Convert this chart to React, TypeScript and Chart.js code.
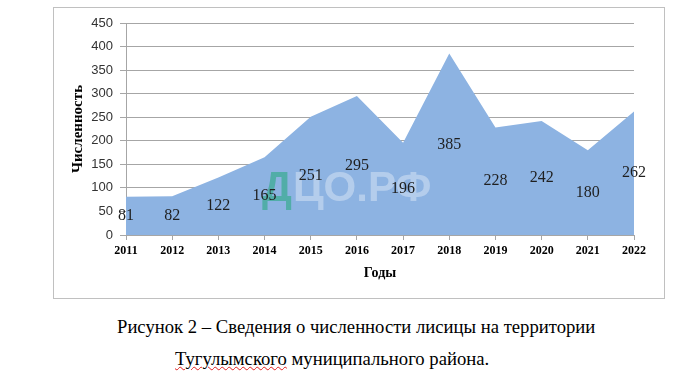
import React, { useEffect, useRef } from "react";
import { Chart, registerables } from "chart.js";

Chart.register(...registerables);

// ---- data ----
const years = ["2011", "2012", "2013", "2014", "2015", "2016", "2017", "2018", "2019", "2020", "2021", "2022"];
const population = [81, 82, 122, 165, 251, 295, 196, 385, 228, 242, 180, 262];
const yMin = 0;
const yMax = 450;
const yStep = 50;
const yTitle = "Численность";
const xTitle = "Годы";
const captionLine1 = "Рисунок 2 – Сведения о численности лисицы на территории";
const captionLine2Marked = "Тугулымского";
const captionLine2Rest = " муниципального района.";
const watermarkFirst = "Д";
const watermarkRest = "ЦО.РФ";

const AREA_COLOR = "#8db3e2";
const GRID_COLOR = "#a6a6a6";

const watermarkPlugin = {
  id: "watermarkAndLabels",
  afterDatasetsDraw(chart: any) {
    const { ctx, chartArea, scales } = chart;
    const xs = scales.x;
    const ys = scales.y;
    ctx.save();
    // watermark
    ctx.font = 'bold 42px "Liberation Sans"';
    ctx.textAlign = "left";
    ctx.textBaseline = "alphabetic";
    const wx = chartArea.left + 136;
    const wy = chartArea.top + 178;
    ctx.fillStyle = "rgba(70,172,158,0.85)";
    ctx.fillText(watermarkFirst, wx, wy);
    const w1 = ctx.measureText(watermarkFirst).width;
    ctx.fillStyle = "rgba(255,255,255,0.35)";
    ctx.fillText(watermarkRest, wx + w1 + 1, wy);
    // value labels centred in the area
    ctx.font = '16px "Liberation Serif"';
    ctx.fillStyle = "#1f1f1f";
    ctx.textAlign = "center";
    ctx.textBaseline = "middle";
    population.forEach((v, i) => {
      ctx.fillText(String(v), xs.getPixelForValue(i), ys.getPixelForValue(v / 2));
    });
    ctx.restore();
  },
};

function ChartBox() {
  const ref = useRef<HTMLCanvasElement | null>(null);
  useEffect(() => {
    if (!ref.current) return;
    const chart = new Chart(ref.current, {
      type: "line",
      data: {
        labels: years,
        datasets: [
          {
            data: population,
            fill: "origin",
            backgroundColor: AREA_COLOR,
            borderColor: AREA_COLOR,
            borderWidth: 0,
            pointRadius: 0,
            tension: 0,
          },
        ],
      },
      options: {
        responsive: false,
        animation: false,
        events: [],
        layout: { padding: { left: 0, right: 30, top: 15, bottom: 0 } },
        plugins: {
          legend: { display: false },
          tooltip: { enabled: false },
          title: { display: false },
        },
        scales: {
          x: {
            type: "category",
            offset: false,
            grid: {
              drawOnChartArea: false,
              drawTicks: true,
              tickLength: 5,
              color: GRID_COLOR,
            },
            border: { display: true, color: GRID_COLOR },
            ticks: {
              color: "#000",
              font: { family: "Liberation Serif", size: 12, weight: "bold" },
              padding: 4,
              maxRotation: 0,
              autoSkip: false,
            },
            title: {
              display: true,
              text: xTitle,
              color: "#000",
              font: { family: "Liberation Serif", size: 14, weight: "bold" },
              padding: { top: 0, bottom: 16 },
            },
            afterFit(scale: any) {
              scale.height = 63;
            },
          },
          y: {
            min: yMin,
            max: yMax,
            ticks: {
              stepSize: yStep,
              color: "#333",
              font: { family: "Liberation Sans", size: 13 },
              padding: 7,
            },
            grid: {
              color: GRID_COLOR,
              drawTicks: true,
              tickLength: 6,
            },
            border: { display: true, color: GRID_COLOR },
            title: {
              display: true,
              text: yTitle,
              color: "#000",
              font: { family: "Liberation Serif", size: 15, weight: "bold" },
              padding: { top: 15, bottom: 0 },
            },
            afterFit(scale: any) {
              scale.width = 72;
            },
          },
        },
      },
      plugins: [watermarkPlugin],
    } as any);
    return () => chart.destroy();
  }, []);
  return <canvas ref={ref} width={610} height={290} style={{ display: "block" }} />;
}

export default function App() {
  const captionStyle: React.CSSProperties = {
    position: "absolute",
    fontFamily: '"Liberation Serif", "Times New Roman", serif',
    fontSize: "18.67px",
    lineHeight: "20px",
    color: "#000",
    whiteSpace: "nowrap",
  };
  return (
    <div style={{ position: "fixed", left: 0, top: 0, width: 691, height: 379, background: "#fff", overflow: "hidden" }}>
      <div
        style={{
          position: "absolute",
          left: 53,
          top: 7,
          width: 612,
          height: 292,
          boxSizing: "border-box",
          border: "1px solid #c0c0c0",
          background: "#fff",
        }}
      >
        <ChartBox />
      </div>
      <div style={{ ...captionStyle, left: 117, top: 317 }}>{captionLine1}</div>
      <div style={{ ...captionStyle, left: 175, top: 349 }}>
        <span
          style={{
            textDecorationLine: "underline",
            textDecorationStyle: "wavy",
            textDecorationColor: "#e02020",
            textDecorationThickness: "1px",
          }}
        >
          {captionLine2Marked}
        </span>
        {captionLine2Rest}
      </div>
    </div>
  );
}
